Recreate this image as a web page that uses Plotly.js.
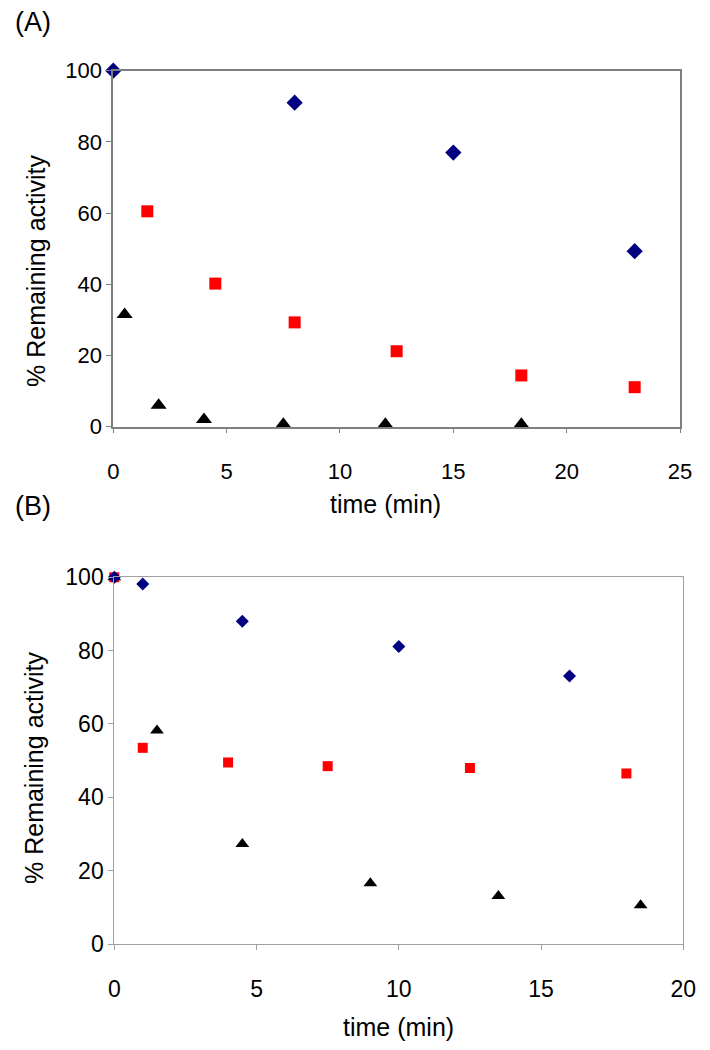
<!DOCTYPE html>
<html>
<head>
<meta charset="utf-8">
<script src="https://cdn.plot.ly/plotly-3.0.1.min.js"></script>
<style>html,body{margin:0;padding:0;background:#fff;}#chart{width:710px;height:1050px;}</style>
</head>
<body>
<div id="chart"></div>
<script>
// Panel A data
const aDiamondX = [0, 8, 15, 23];
const aDiamondY = [100, 91, 77, 49.3];
const aSquareX = [1.5, 4.5, 8, 12.5, 18, 23];
const aSquareY = [60.5, 40.2, 29.3, 21.2, 14.4, 11.1];
const aTriangleX = [0.5, 2, 4, 7.5, 12, 18];
const aTriangleY = [31.5, 6, 2, 0.7, 0.7, 0.7];

// Panel B data
const bDiamondX = [0, 1, 4.5, 10, 16];
const bDiamondY = [100, 98.2, 88, 81.1, 73.1];
const bSquareX = [0, 1, 4, 7.5, 12.5, 18];
const bSquareY = [100, 53.5, 49.5, 48.5, 48, 46.5];
const bTriangleX = [0, 1.5, 4.5, 9, 13.5, 18.5];
const bTriangleY = [100, 58.2, 27.3, 16.6, 13.1, 10.6];

const aXTicks = [0, 5, 10, 15, 20, 25];
const bXTicks = [0, 5, 10, 15, 20];
const yTicks = [0, 20, 40, 60, 80, 100];

const W = 710, H = 1050;
const px = v => v / W;
const py = v => 1 - v / H;
const FONT = 'Liberation Sans, Arial, sans-serif';

function mk(x, y, xa, ya, symbol, color, size) {
  return {x: x, y: y, xaxis: xa, yaxis: ya, type: 'scatter', mode: 'markers',
    cliponaxis: false, showlegend: false, hoverinfo: 'skip',
    marker: {symbol: symbol, color: color, size: size, line: {width: 0}}};
}

const data = [
  mk(aDiamondX, aDiamondY, 'x', 'y', 'diamond', '#000080', 12.5),
  mk(aSquareX, aSquareY, 'x', 'y', 'square', '#ff0000', 12),
  mk(aTriangleX, aTriangleY, 'x', 'y', 'triangle-up', '#000000', 14),
  mk(bSquareX, bSquareY, 'x2', 'y2', 'square', '#ff0000', 10),
  mk(bTriangleX, bTriangleY, 'x2', 'y2', 'triangle-up', '#000000', 12),
  mk(bDiamondX, bDiamondY, 'x2', 'y2', 'diamond', '#000080', 10)
];

function ax(domain, range, ticks, lineColor, lineWidth, fontSize, anchor) {
  return {domain: domain, range: range, tickvals: ticks, ticktext: ticks.map(String),
    showgrid: false, zeroline: false, showline: true, mirror: true,
    linecolor: lineColor, linewidth: lineWidth, ticks: 'outside', ticklen: 5,
    tickcolor: lineColor, tickwidth: 1,
    tickfont: {family: FONT, size: fontSize, color: '#000'},
    anchor: anchor, fixedrange: true};
}
// x axes carry the labels with a long invisible tick; a twin axis draws the short visible ticks
function xLabelAxis(domain, range, ticks, lineColor, lineWidth, fontSize, anchor, gap) {
  const a = ax(domain, range, ticks, lineColor, lineWidth, fontSize, anchor);
  a.ticklen = gap; a.tickcolor = 'rgba(0,0,0,0)';
  return a;
}
function xTickAxis(overlay, domain, range, ticks, lineColor, anchor) {
  return {overlaying: overlay, domain: domain, range: range, tickvals: ticks,
    showticklabels: false, showgrid: false, zeroline: false, showline: false,
    ticks: 'outside', ticklen: 5, tickcolor: lineColor, tickwidth: 1,
    anchor: anchor, side: 'bottom', fixedrange: true};
}

const aXDom = [px(113.3), px(680)];
const bXDom = [px(114.3), px(683.3)];

const layout = {
  width: W, height: H,
  margin: {l: 0, r: 0, t: 0, b: 0},
  paper_bgcolor: '#fff', plot_bgcolor: '#fff',
  font: {family: FONT, color: '#000'},
  xaxis: xLabelAxis(aXDom, [0, 25], aXTicks, '#7f7f7f', 2, 22, 'y', 24),
  yaxis: ax([py(426.7), py(70.7)], [0, 100], yTicks, '#7f7f7f', 2, 22, 'x'),
  xaxis2: xLabelAxis(bXDom, [0, 20], bXTicks, '#a0a0a0', 1, 23, 'y2', 24),
  yaxis2: ax([py(944), py(577.3)], [0, 100], yTicks, '#a0a0a0', 1, 23, 'x2'),
  xaxis3: xTickAxis('x', aXDom, [0, 25], aXTicks, '#7f7f7f', 'y'),
  xaxis4: xTickAxis('x2', bXDom, [0, 20], bXTicks, '#a0a0a0', 'y2'),
  annotations: [
    {text: '(A)', x: px(33), y: py(22), xref: 'paper', yref: 'paper', showarrow: false,
     xanchor: 'center', yanchor: 'middle', font: {family: FONT, size: 27, color: '#000'}},
    {text: '(B)', x: px(33), y: py(506), xref: 'paper', yref: 'paper', showarrow: false,
     xanchor: 'center', yanchor: 'middle', font: {family: FONT, size: 27, color: '#000'}},
    {text: 'time (min)', x: px(385), y: py(504), xref: 'paper', yref: 'paper', showarrow: false,
     xanchor: 'center', yanchor: 'middle', font: {family: FONT, size: 25, color: '#000'}},
    {text: '% Remaining activity', x: px(36), y: py(271), xref: 'paper', yref: 'paper', showarrow: false,
     textangle: -90, xanchor: 'center', yanchor: 'middle', font: {family: FONT, size: 25, color: '#000'}},
    {text: 'time (min)', x: px(398), y: py(1027), xref: 'paper', yref: 'paper', showarrow: false,
     xanchor: 'center', yanchor: 'middle', font: {family: FONT, size: 25, color: '#000'}},
    {text: '% Remaining activity', x: px(34), y: py(768), xref: 'paper', yref: 'paper', showarrow: false,
     textangle: -90, xanchor: 'center', yanchor: 'middle', font: {family: FONT, size: 25, color: '#000'}}
  ]
};

Plotly.newPlot('chart', [...data,
  {x: [], y: [], xaxis: 'x3', yaxis: 'y', type: 'scatter', showlegend: false},
  {x: [], y: [], xaxis: 'x4', yaxis: 'y2', type: 'scatter', showlegend: false}
], layout, {displayModeBar: false, staticPlot: true});
</script>
</body>
</html>
